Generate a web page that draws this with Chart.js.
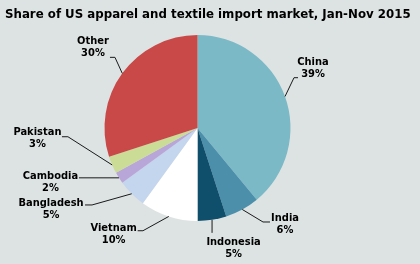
<!DOCTYPE html>
<html><head><meta charset="utf-8">
<script src="https://cdn.jsdelivr.net/npm/chart.js@4/dist/chart.umd.min.js"></script>
<style>html,body{margin:0;padding:0;background:#dde3e3;}canvas{display:block;}</style>
</head><body>
<canvas id="c" width="420" height="264"></canvas>
<script>
const titleText = "Share of US apparel and textile import market, Jan-Nov 2015";
const categories = ["China","India","Indonesia","Vietnam","Bangladesh","Cambodia","Pakistan","Other"];
const shares = [39, 6, 5, 10, 5, 2, 3, 30];
const sliceColors = ["#7cb9c6","#4b8fab","#0f4f6b","#ffffff","#c4d5ee","#b9a6d8","#cadc95","#c84947"];
// label layout: elbow offset from arc anchor, horizontal run, first text line centre offset from run end
const labelLayout = [
  {ex:9, ey:-18.8, hl:4, tx:15, ty:-16},
  {ex:20.7, ey:12.5, hl:7, tx:15, ty:-4},
  {ex:0, ey:13, hl:0, tx:21.5, ty:9},
  {ex:-25.8, ey:14.3, hl:-5.3, tx:-24, ty:-2.7},
  {ex:-39.7, ey:11.2, hl:-7, tx:-34, ty:-2},
  {ex:0, ey:0, hl:-40, tx:-28.5, ty:-1.8},
  {ex:-44.2, ey:-28.2, hl:-6, tx:-24.5, ty:-4.7},
  {ex:-7.3, ey:-16, hl:-5, tx:-17, ty:-16.3}
];
const FONT = "bold 11px 'DejaVu Sans Condensed', 'DejaVu Sans', sans-serif";

const labelPlugin = {
  id: 'labels',
  beforeDraw(chart){
    const ctx = chart.ctx;
    ctx.save();
    ctx.fillStyle = '#dde3e3';
    ctx.fillRect(0,0,chart.width,chart.height);
    ctx.restore();
  },
  afterDraw(chart){
    const ctx = chart.ctx;
    ctx.save();
    ctx.font = "bold 11.8px 'DejaVu Sans', sans-serif";
    ctx.fillStyle = '#000';
    ctx.textBaseline = 'alphabetic';
    ctx.textAlign = 'left';
    ctx.fillText(titleText, 5, 18);
    const meta = chart.getDatasetMeta(0);
    meta.data.forEach((arc, i) => {
      const mid = (arc.startAngle + arc.endAngle) / 2;
      const ax = arc.x + Math.cos(mid) * arc.outerRadius;
      const ay = arc.y + Math.sin(mid) * arc.outerRadius;
      const L = labelLayout[i];
      const exx = ax + L.ex, eyy = ay + L.ey;
      const endx = exx + L.hl;
      ctx.strokeStyle = '#1a1a1a';
      ctx.lineWidth = 1;
      ctx.beginPath();
      ctx.moveTo(ax, ay);
      ctx.lineTo(exx, eyy);
      ctx.lineTo(endx, eyy);
      ctx.stroke();
      ctx.font = FONT;
      ctx.fillStyle = '#000';
      ctx.textAlign = 'center';
      ctx.textBaseline = 'middle';
      const cx = endx + L.tx, cy = eyy + L.ty;
      ctx.fillText(categories[i], cx, cy);
      ctx.fillText(shares[i] + '%', cx, cy + 12.5);
    });
    ctx.restore();
  }
};

new Chart(document.getElementById('c'), {
  type: 'pie',
  data: {
    labels: categories,
    datasets: [{ data: shares, backgroundColor: sliceColors, borderWidth: 0 }]
  },
  options: {
    responsive: false,
    animation: false,
    layout: { padding: { top: 35, bottom: 43, left: 50, right: 75 } },
    plugins: { legend: { display: false }, tooltip: { enabled: false }, title: { display: false } }
  },
  plugins: [labelPlugin]
});
</script>
</body></html>
